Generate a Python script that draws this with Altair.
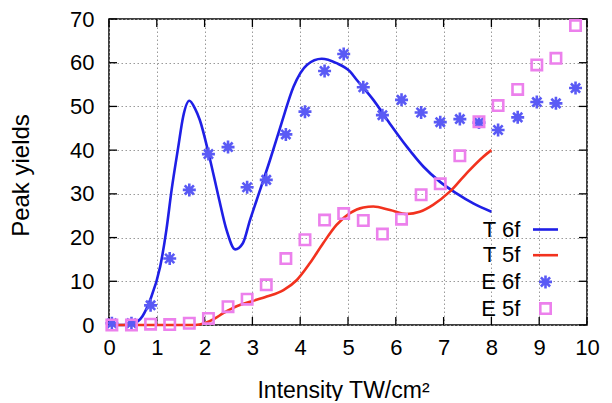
import altair as alt
import pandas as pd

# ---------------- data ----------------
series_names = ["T 6f", "T 5f", "E 6f", "E 5f"]

t6_x = [0, 0.3, 0.5, 0.7, 0.86, 1.07, 1.2, 1.31, 1.45, 1.55, 1.68, 1.8, 1.9, 2.1,
        2.29, 2.46, 2.64, 2.8, 2.95, 3.09, 3.37, 3.61, 3.86, 4.14, 4.45, 4.76,
        5.04, 5.18, 5.53, 5.88, 6.23, 6.58, 6.92, 7.27, 7.62, 8.0]
t6_y = [0, 0, 0.3, 2.0, 5.7, 13.3, 21.7, 30.9, 40.8, 47.6, 51.3, 49.5, 46.9, 38.5,
        29.4, 21.7, 17.3, 18.7, 24.0, 28.6, 37.8, 46.2, 54.5, 59.5, 60.9, 59.9,
        58.0, 56.1, 51.5, 46.0, 40.8, 36.2, 32.8, 30.1, 27.8, 25.9]

t5_x = [0, 1.8, 2.0, 2.2, 2.39, 2.67, 2.95, 3.3, 3.65, 3.93, 4.2, 4.48, 4.76, 5.04,
        5.32, 5.53, 5.88, 6.23, 6.5, 6.78, 7.13, 7.48, 7.83, 8.0]
t5_y = [0, 0, 0.4, 1.4, 2.7, 4.3, 5.3, 6.5, 8.0, 10.3, 14.1, 18.7, 22.9, 25.6,
        26.9, 27.1, 26.3, 25.4, 25.9, 27.5, 30.5, 34.7, 38.5, 40.0]

e_x = [0.06, 0.47, 0.87, 1.27, 1.68, 2.08, 2.49, 2.89, 3.29, 3.70, 4.10, 4.51, 4.91,
       5.32, 5.72, 6.12, 6.53, 6.93, 7.34, 7.74, 8.14, 8.55, 8.95, 9.35, 9.76]
e6_y = [0.4, 0.4, 4.5, 15.2, 30.9, 39.1, 40.7, 31.5, 33.2, 43.6, 48.8, 58.1, 62.0,
        54.4, 48.0, 51.5, 48.6, 46.4, 47.1, 46.3, 44.6, 47.5, 51.0, 50.7, 54.2]
e5_y = [0.0, 0.0, 0.2, 0.1, 0.4, 1.5, 4.2, 5.9, 9.2, 15.2, 19.5, 24.0, 25.5,
        23.9, 20.8, 24.2, 29.8, 32.3, 38.7, 46.5, 50.2, 53.9, 59.5, 61.0, 68.5]

x_ticks = [0, 1, 2, 3, 4, 5, 6, 7, 8, 9, 10]
y_ticks = [0, 10, 20, 30, 40, 50, 60, 70]

# ---------------- styling ----------------
colors = ["#1f1fe6", "#f2321e", "#5a5af5", "#ec80ec"]
line_path = "M-1.25,0H1.25"
star_path = "M-0.65,0H0.65M0,-0.65V0.65M-0.46,-0.46L0.46,0.46M-0.46,0.46L0.46,-0.46"
square_path = "M-0.52,-0.52H0.52V0.52H-0.52Z"
shapes = [line_path, line_path, star_path, square_path]
widths = [2.6, 2.6, 0.9, 1.2]

W, H = 478, 306
FONT = "Liberation Sans"

lines_df = pd.concat([
    pd.DataFrame({"series": "T 6f", "x": t6_x, "y": t6_y}),
    pd.DataFrame({"series": "T 5f", "x": t5_x, "y": t5_y}),
])
points_df = pd.concat([
    pd.DataFrame({"series": "E 6f", "x": e_x, "y": e6_y}),
    pd.DataFrame({"series": "E 5f", "x": e_x, "y": e5_y}),
])
xt_df = pd.DataFrame({"v": x_ticks})
yt_df = pd.DataFrame({"v": y_ticks})

xscale = alt.Scale(domain=[0, 10], nice=False, zero=False)
yscale = alt.Scale(domain=[0, 70], nice=False, zero=False)

xaxis = alt.Axis(values=x_ticks, grid=True, ticks=False, domain=False, labelFlush=False,
                 labelFontSize=22, labelPadding=12, labelFont=FONT, labelColor="black",
                 title="Intensity TW/cm²", titleFont=FONT, titleFontSize=23,
                 titleFontWeight="normal", titleColor="black", titleX=234, titleY=65,
                 titleBaseline="middle")
yaxis = alt.Axis(values=y_ticks, grid=True, ticks=False, domain=False, labelFlush=False,
                 labelFontSize=22, labelPadding=15, labelFont=FONT, labelColor="black",
                 title="Peak yields", titleFont=FONT, titleFontSize=24,
                 titleFontWeight="normal", titleColor="black", titleX=-88, titleY=156,
                 titleBaseline="middle")

# legend text sits to the left of its sample, as in the reference:
# trailing no-break spaces (kept from trimming by a zero-width space)
legend_label = "datum.label + '\u00a0\u00a0\u00a0\u00a0\u00a0\u00a0\u200b'"

color_enc = alt.Color("series:N", scale=alt.Scale(domain=series_names, range=colors),
                      title=None, legend=alt.Legend(labelExpr=legend_label))
width_enc = alt.StrokeWidth("series:N", scale=alt.Scale(domain=series_names, range=widths),
                            title=None, legend=alt.Legend(labelExpr=legend_label))

lines = alt.Chart(lines_df).mark_line(interpolate="monotone").encode(
    x=alt.X("x:Q", scale=xscale, axis=xaxis),
    y=alt.Y("y:Q", scale=yscale, axis=yaxis),
    color=color_enc,
    strokeWidth=width_enc,
    detail="series:N",
)

points = alt.Chart(points_df).mark_point(filled=False, size=400, opacity=1).encode(
    x=alt.X("x:Q", scale=xscale),
    y=alt.Y("y:Q", scale=yscale),
    color=color_enc,
    strokeWidth=width_enc,
    shape=alt.Shape("series:N", scale=alt.Scale(domain=series_names, range=shapes),
                    title=None, legend=alt.Legend(labelExpr=legend_label)),
)

tick_len = 8
bottom_ticks = alt.Chart(xt_df).mark_rule(color="black", strokeWidth=1.3).encode(
    x=alt.X("v:Q", scale=xscale), y=alt.value(H), y2=alt.value(H - tick_len))
top_ticks = alt.Chart(xt_df).mark_rule(color="black", strokeWidth=1.3).encode(
    x=alt.X("v:Q", scale=xscale), y=alt.value(0), y2=alt.value(tick_len))
left_ticks = alt.Chart(yt_df).mark_rule(color="black", strokeWidth=1.3).encode(
    y=alt.Y("v:Q", scale=yscale), x=alt.value(0), x2=alt.value(tick_len))
right_ticks = alt.Chart(yt_df).mark_rule(color="black", strokeWidth=1.3).encode(
    y=alt.Y("v:Q", scale=yscale), x=alt.value(W), x2=alt.value(W - tick_len))

chart = alt.layer(
    bottom_ticks, top_ticks, left_ticks, right_ticks, lines, points
).properties(
    width=W, height=H,
    autosize=alt.AutoSizeParams(type="none"),
    padding={"left": 101, "top": 11, "right": 17, "bottom": 76},
).configure_view(
    stroke="black", strokeWidth=1.5
).configure_axis(
    gridColor="#9a9a9a", gridDash=[1.5, 2.5], gridWidth=1, gridOpacity=1
).configure_legend(
    orient="none", legendX=425, legendY=199, padding=0,
    labelFont=FONT, labelFontSize=22, labelColor="black", labelAlign="right",
    labelOffset=0, symbolOffset=0, symbolSize=400, rowPadding=2.7,
    symbolFillColor="transparent",
)

chart.save("out.html", embed_options={"renderer": "svg", "actions": False})
